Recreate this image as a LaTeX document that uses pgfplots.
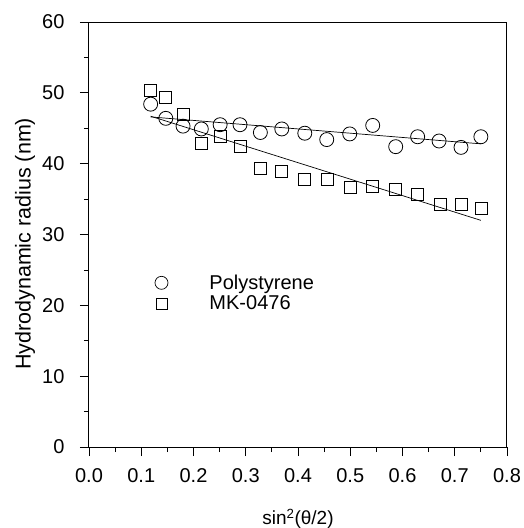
\documentclass[border=0pt]{standalone}
\usepackage{pgfplots}
\pgfplotsset{compat=1.18}
\usepackage{fontspec}
\setmainfont{Liberation Sans}
\begin{document}
\begin{tikzpicture}
\begin{axis}[
  scale only axis,
  width=418pt, height=425pt,
  xmin=0, xmax=0.8, ymin=0, ymax=60,
  xtick={0,0.1,...,0.8}, ytick={0,10,...,60},
  minor x tick num=1, minor y tick num=1,
  tick align=outside,
  xtick pos=left, ytick pos=left,
  major tick length=9pt, minor tick length=5pt,
  axis line style={line width=1pt},
  every tick/.style={line width=0.8pt, black},
  /pgf/number format/assume math mode=true,
  xticklabel style={/pgf/number format/fixed, /pgf/number format/fixed zerofill, /pgf/number format/precision=1, yshift=-9pt},
  yticklabel style={xshift=-12pt},
  ticklabel style={font=\fontsize{20}{23}\selectfont},
  xlabel={sin\textsuperscript{2}(\symbol{"03B8}/2)},
  ylabel={Hydrodynamic radius (nm)},
  xlabel style={font=\fontsize{19}{22}\selectfont, at={(axis description cs:0.5,-0.169)}, anchor=center},
  ylabel style={font=\fontsize{21.5}{24}\selectfont, at={(axis description cs:-0.153,0.478)}, anchor=center, rotate=0},
  legend style={draw=none, fill=none, at={(0.094,0.415)}, anchor=north west,
    font=\fontsize{20}{24}\selectfont, row sep=1pt},
  legend cell align=left,
]
\addplot[draw=none, mark=o, mark size=7pt, mark options={draw=black, line width=0.8pt},
  legend image code/.code={\path[mark repeat=2, mark phase=2, mark size=6.5pt, mark options={draw=black, line width=0.7pt}] plot coordinates {(0pt,0pt)(30pt,0pt)(60pt,0pt)};}] coordinates {
(0.118,48.4)(0.147,46.4)(0.180,45.3)(0.215,44.9)(0.251,45.5)(0.289,45.5)
(0.328,44.4)(0.369,44.9)(0.413,44.3)(0.455,43.4)(0.499,44.2)(0.543,45.4)
(0.587,42.4)(0.629,43.8)(0.670,43.2)(0.712,42.3)(0.750,43.8)};
\addlegendentry{\hspace*{16pt}Polystyrene}
\addplot[draw=none, mark=square, mark size=6pt, mark options={draw=black, line width=0.8pt},
  legend image code/.code={\path[mark repeat=2, mark phase=2, mark size=5.5pt, mark options={draw=black, line width=0.7pt}] plot coordinates {(0pt,0pt)(30pt,0pt)(60pt,0pt)};}] coordinates {
(0.118,50.4)(0.147,49.4)(0.180,47.0)(0.215,42.8)(0.251,43.9)(0.289,42.4)
(0.328,39.3)(0.369,38.9)(0.413,37.8)(0.457,37.8)(0.500,36.7)(0.543,36.8)
(0.587,36.3)(0.629,35.7)(0.672,34.2)(0.713,34.2)(0.751,33.7)};
\addlegendentry{\hspace*{16pt}MK-0476}
\addplot[forget plot, line width=0.7pt] coordinates {(0.118,46.6)(0.750,42.8)};
\addplot[forget plot, line width=0.7pt] coordinates {(0.118,46.7)(0.750,32.0)};
\end{axis}
\pgfresetboundingbox
\path[use as bounding box] (-89pt,-81pt) rectangle (435pt,447pt);
\end{tikzpicture}
\end{document}
